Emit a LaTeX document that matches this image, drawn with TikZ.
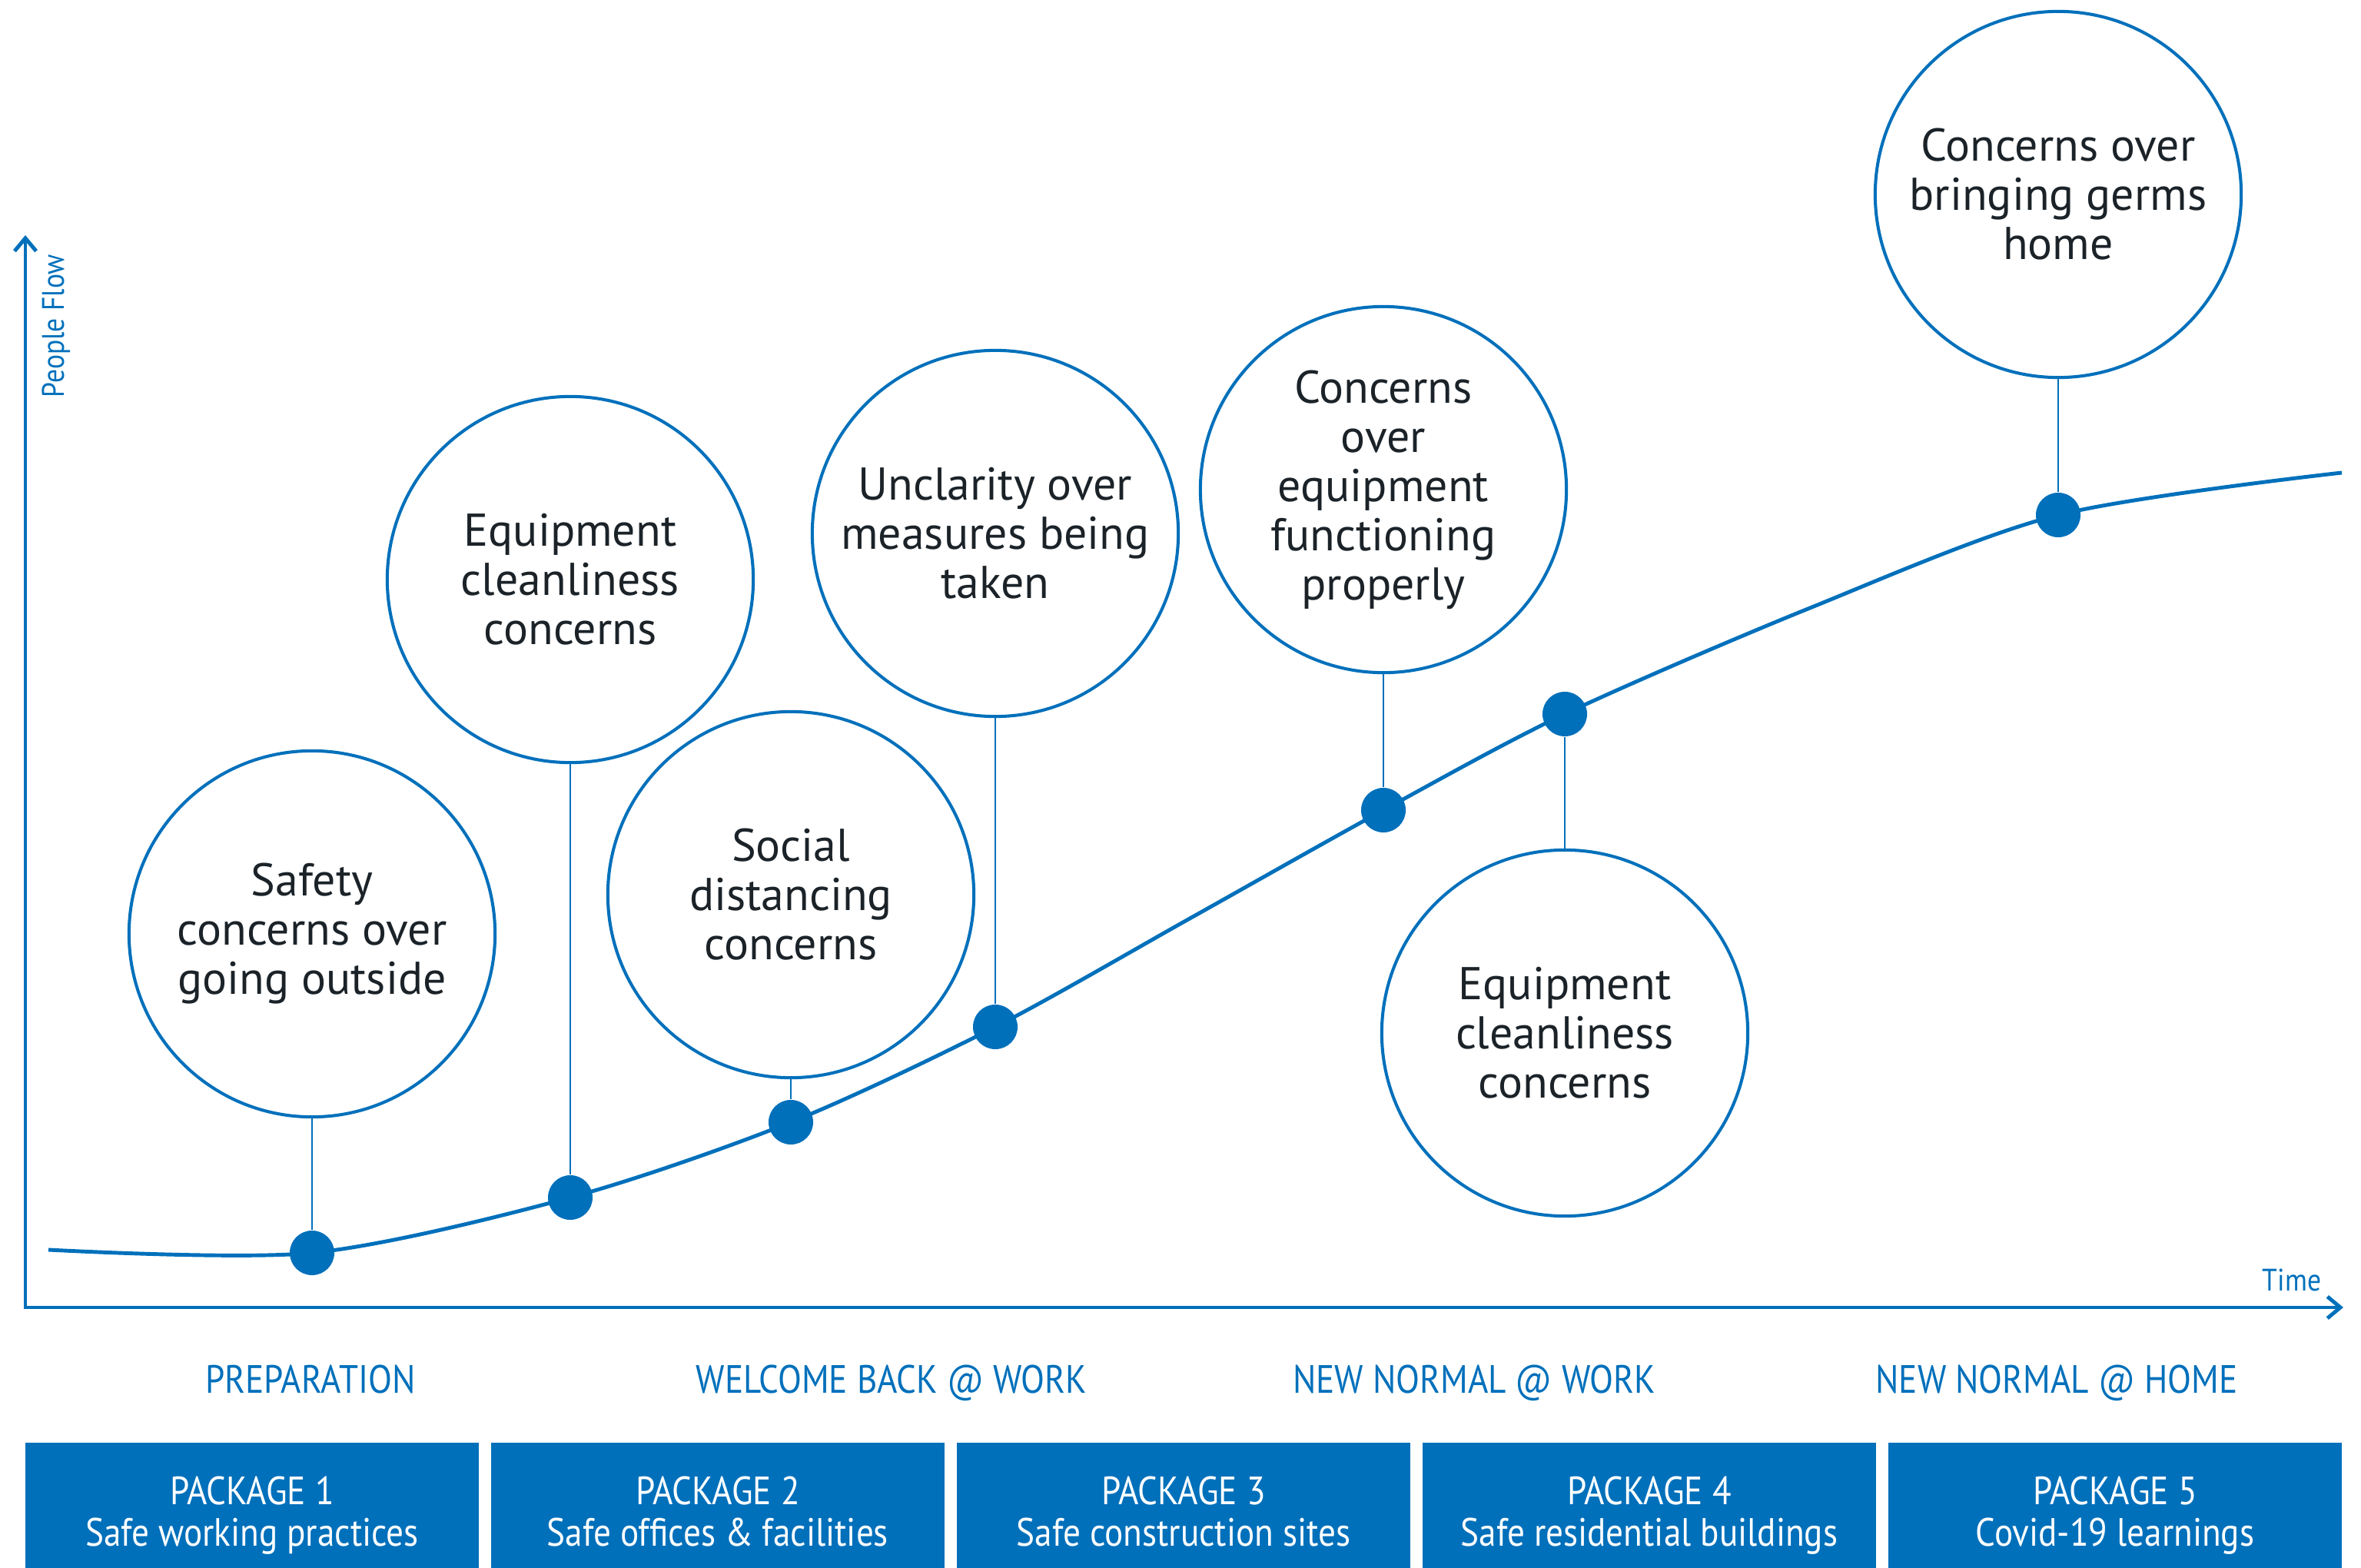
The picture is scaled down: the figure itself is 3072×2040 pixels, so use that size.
\documentclass[tikz,border=0pt]{standalone}
\usepackage{fontspec}
\setmainfont{PT Sans}
\newfontfamily\narrowsans[FakeStretch=0.88]{PT Sans}
\usetikzlibrary{
  arrows.meta, % for the barbed axis tips
}
\definecolor{brand-blue}{RGB}{0, 112, 187}
\definecolor{brand-ink}{RGB}{27, 35, 41}

\begin{document}
\begin{tikzpicture}[%
    x=0.01cm, y=-0.01cm,% one unit per pixel, y runs downwards
    bubble/.style={circle, draw=brand-blue, line width=1.15pt, fill=white,%
      minimum size=4.76cm, inner sep=0pt, align=center, text=brand-ink,%
      font=\fontsize{17}{18.2}\selectfont},%
    milestone/.style={circle, fill=brand-blue, minimum size=0.58cm, inner sep=0pt},%
    flow/.style={brand-blue, line width=1.4pt},%
    link/.style={brand-blue, line width=0.8pt},%
    flowaxis/.style={brand-blue, line width=1.4pt, line join=miter,%
      >={Straight Barb[length=4.8pt, width=8pt]}, <->},%
    axislabel/.style={text=brand-blue, inner sep=0pt,%
      font=\narrowsans\fontsize{11.5}{12}\selectfont},%
    phase/.style={text=brand-blue, inner sep=0pt, anchor=base,%
      font=\narrowsans\fontsize{14.6}{15.4}\selectfont},%
    pkgbox/.style={fill=brand-blue, text=white, minimum width=5.9cm,%
      minimum height=1.94cm, inner sep=0pt, align=center,%
      font=\narrowsans\fontsize{14.6}{15.4}\selectfont},%
  ]
  \useasboundingbox (0,0) rectangle (3072,2040);

  % axes
  \coordinate (ax-top) at (33, 306);
  \coordinate (ax-origin) at (33, 1701);
  \coordinate (ax-end) at (3049, 1701);
  \draw[flowaxis] (ax-top) -- (ax-origin) -- (ax-end);
  \node[axislabel, rotate=90] (ylabel) at (73, 424) {People Flow};
  \node[axislabel] (xlabel) at (2982, 1665) {Time};

  % people flow curve (q* only shape the curve)
  \coordinate (p0) at (63, 1626);
  \coordinate (p1) at (406, 1630);
  \coordinate (p2) at (742, 1558);
  \coordinate (p3) at (1029, 1460);
  \coordinate (p4) at (1295, 1336);
  \coordinate (q45) at (1548, 1195);
  \coordinate (p5) at (1800, 1054);
  \coordinate (p6) at (2036, 929);
  \coordinate (q67) at (2355, 791);
  \coordinate (p7) at (2678, 670);
  \coordinate (p8) at (3047, 615);
  \draw[flow] plot[smooth, tension=0.5] coordinates
    {(p0) (p1) (p2) (p3) (p4) (q45) (p5) (p6) (q67) (p7) (p8)};
  \foreach \i in {1,...,7}
    \node[milestone] (m\i) at (p\i) {};

  % concerns
  \node[bubble] (safety) at (406, 1215) {Safety\\concerns over\\going outside};
  \node[bubble] (clean-a) at (742, 754) {Equipment\\cleanliness\\concerns};
  \node[bubble] (distance) at (1029, 1164) {Social\\distancing\\concerns};
  \node[bubble] (unclarity) at (1295, 694) {Unclarity over\\measures being\\taken};
  \node[bubble] (function) at (1800, 637) {Concerns\\over\\equipment\\functioning\\properly};
  \node[bubble] (clean-b) at (2036, 1344) {Equipment\\cleanliness\\concerns};
  \node[bubble] (germs) at (2678, 253) {Concerns over\\bringing germs\\home};
  \foreach \b/\m in {safety/m1, clean-a/m2, distance/m3, unclarity/m4,%
      function/m5, clean-b/m6, germs/m7}
    \draw[link] (\b) -- (\m);

  % phases
  \node[phase] (prep) at (404, 1812) {PREPARATION};
  \node[phase] (welcome) at (1160, 1812) {WELCOME BACK @ WORK};
  \node[phase] (normal-work) at (1918, 1812) {NEW NORMAL @ WORK};
  \node[phase] (normal-home) at (2676, 1812) {NEW NORMAL @ HOME};

  % packages
  \foreach \i/\txt in {1/Safe working practices, 2/Safe offices \& facilities,%
      3/Safe construction sites, 4/Safe residential buildings, 5/Covid-19 learnings}
    \node[pkgbox] (pkg\i) at ({328+606*(\i-1)}, 1974) {\strut PACKAGE \i\\\txt\strut};
\end{tikzpicture}
\end{document}
